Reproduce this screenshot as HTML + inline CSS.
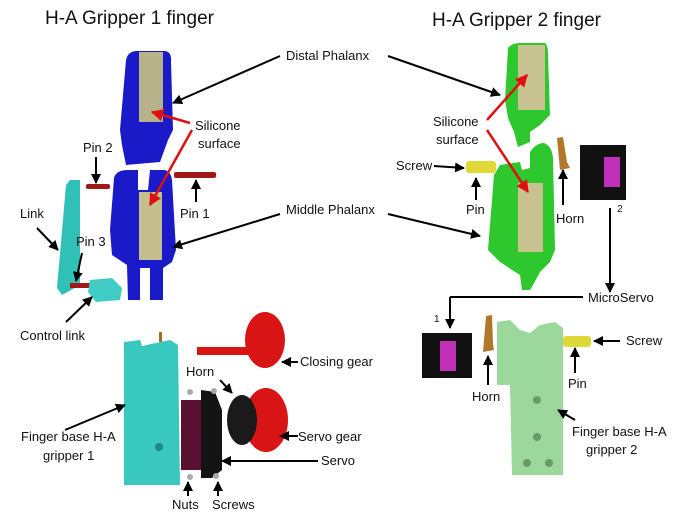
<!DOCTYPE html>
<html><head><meta charset="utf-8"><style>
html,body{margin:0;padding:0;background:#fff;}
svg{display:block;}
text{font-family:"Liberation Sans",sans-serif;fill:#111;}
.l{font-size:13px;}
.t{font-size:19px;}
</style></head><body>
<svg width="696" height="514" viewBox="0 0 696 514" xmlns="http://www.w3.org/2000/svg">
<defs>
<marker id="ah" viewBox="0 0 10 10" refX="9" refY="5" markerWidth="5" markerHeight="5" orient="auto-start-reverse"><path d="M0,0L10,5L0,10z" fill="#000"/></marker>
<marker id="ahr" viewBox="0 0 10 10" refX="9" refY="5" markerWidth="5" markerHeight="5" orient="auto"><path d="M0,0L10,5L0,10z" fill="#e01010"/></marker>
</defs>
<text class="t" x="45" y="24">H-A Gripper 1 finger</text>
<text class="t" x="432" y="26">H-A Gripper 2 finger</text>

<g>
<path d="M126,60 Q128,50 140,51 L165,51 Q172,52 171,62 L173,130 L168,140 L160,162 L126,165 L122,145 L120,130 Z" fill="#1a1ac8"/>
<rect x="139" y="52" width="24" height="70" fill="#b8b288"/>
</g>
<g>
<path d="M114,178 Q116,170 128,170 L138,170 L138,190 L148,190 L150,170 L165,170 Q171,172 172,180 L176,250 L172,262 L163,268 L163,300 L150,300 L150,268 L140,268 L140,300 L128,300 L127,265 L112,255 L110,230 Z" fill="#1a1ac8"/>
<rect x="139" y="192" width="23" height="68" fill="#c4be8c"/>
</g>
<rect x="86" y="184" width="24" height="5" rx="2" fill="#a01818"/>
<rect x="174" y="172" width="42" height="6" rx="2" fill="#a01818"/>
<path d="M70,180 L80,180 L80,285 L62,295 L57,288 L66,185 Z" fill="#30c0b8"/>
<rect x="70" y="283" width="20" height="5" fill="#a01818"/>
<path d="M90,280 L112,278 L122,288 L120,300 L96,302 L88,292 Z" fill="#40ccc4"/>

<path d="M124,342 L140,340 L142,346 L170,340 L178,345 L180,485 L124,485 Z" fill="#38c8c0"/>
<rect x="159" y="332" width="3" height="10" fill="#a07020"/>
<circle cx="159" cy="447" r="4" fill="#1a8a84"/>
<rect x="181" y="400" width="20" height="70" fill="#5a1030"/>
<path d="M201,390 L215,392 L222,410 L222,470 L212,478 L201,478 Z" fill="#141414"/>
<circle cx="190" cy="392" r="3" fill="#aaa"/><circle cx="214" cy="391" r="3" fill="#aaa"/>
<circle cx="190" cy="477" r="3" fill="#aaa"/><circle cx="216" cy="476" r="3" fill="#aaa"/>
<ellipse cx="266" cy="420" rx="22" ry="32" fill="#d81414"/>
<ellipse cx="265" cy="340" rx="20" ry="28" fill="#d81414"/>
<rect x="197" y="347" width="55" height="8" fill="#d81414"/>
<ellipse cx="242" cy="420" rx="15" ry="25" fill="#1a1a1a"/>

<g>
<path d="M508,48 Q512,43 520,43 L545,43 Q548,45 548,55 L550,115 L540,125 L530,132 L530,142 L518,147 L514,132 L508,118 L505,100 Z" fill="#2ec82e"/>
<rect x="518" y="45" width="27" height="65" fill="#c8c290"/>
</g>
<g>
<path d="M494,175 L500,165 L520,162 L522,170 L530,168 L530,152 Q536,143 544,143 Q552,146 553,158 L555,250 L550,262 L540,272 L533,285 L530,290 L522,290 L520,275 L500,262 L488,250 Z" fill="#2ec82e"/>
<rect x="518" y="183" width="25" height="69" fill="#c8c290"/>
</g>
<rect x="466" y="161" width="30" height="12" rx="3" fill="#e0d838"/>
<path d="M557,138 L563,137 L567,162 L570,168 L560,170 Z" fill="#b07828"/>
<rect x="580" y="145" width="46" height="55" fill="#111"/>
<rect x="604" y="157" width="16" height="30" fill="#c030b8"/>
<path d="M497,322 L510,320 L520,330 L530,333 L540,325 L555,322 L563,328 L563,475 L512,475 L510,385 L497,385 Z" fill="#9cd89c"/>
<circle cx="537" cy="400" r="4" fill="#6a9a6a"/>
<circle cx="537" cy="437" r="4" fill="#6a9a6a"/>
<circle cx="527" cy="463" r="4" fill="#6a9a6a"/><circle cx="549" cy="463" r="4" fill="#6a9a6a"/>
<rect x="422" y="333" width="50" height="45" fill="#111"/>
<rect x="440" y="341" width="16" height="30" fill="#c030b8"/>
<path d="M486,316 L492,315 L493,345 L494,350 L483,352 Z" fill="#b07828"/>
<rect x="563" y="336" width="28" height="11" rx="3" fill="#e0d838"/>

<g stroke="#000" stroke-width="2" fill="none" marker-end="url(#ah)">
<line x1="280" y1="56" x2="173" y2="103"/>
<line x1="388" y1="56" x2="500" y2="95"/>
<line x1="280" y1="214" x2="173" y2="247"/>
<line x1="388" y1="214" x2="480" y2="236"/>
<line x1="96" y1="157" x2="96" y2="183"/>
<line x1="196" y1="202" x2="196" y2="180"/>
<line x1="37" y1="228" x2="58" y2="250"/>
<line x1="82" y1="253" x2="76" y2="281"/>
<line x1="66" y1="322" x2="92" y2="297"/>
<line x1="434" y1="166" x2="464" y2="168"/>
<line x1="476" y1="200" x2="476" y2="178"/>
<line x1="563" y1="205" x2="563" y2="170"/>
<line x1="610" y1="208" x2="610" y2="292"/>
<line x1="583" y1="297" x2="450" y2="297" marker-end="none"/>
<line x1="450" y1="297" x2="450" y2="328"/>
<line x1="620" y1="341" x2="594" y2="341"/>
<line x1="575" y1="373" x2="575" y2="348"/>
<line x1="488" y1="385" x2="488" y2="356"/>
<line x1="575" y1="420" x2="558" y2="410"/>
<line x1="65" y1="430" x2="125" y2="405"/>
<line x1="220" y1="380" x2="232" y2="393"/>
<line x1="298" y1="362" x2="282" y2="362"/>
<line x1="298" y1="436" x2="280" y2="436"/>
<line x1="318" y1="461" x2="222" y2="461"/>
<line x1="188" y1="496" x2="188" y2="482"/>
<line x1="218" y1="496" x2="218" y2="482"/>
</g>
<g stroke="#e01010" stroke-width="2.5" fill="none" marker-end="url(#ahr)">
<line x1="190" y1="123" x2="152" y2="112"/>
<line x1="192" y1="130" x2="150" y2="205"/>
<line x1="487" y1="120" x2="527" y2="75"/>
<line x1="487" y1="130" x2="528" y2="192"/>
</g>

<g class="l">
<text x="286" y="60" class="l">Distal Phalanx</text>
<text x="286" y="214" class="l">Middle Phalanx</text>
<text x="195" y="130" class="l">Silicone</text>
<text x="198" y="148" class="l">surface</text>
<text x="433" y="126" class="l">Silicone</text>
<text x="436" y="144" class="l">surface</text>
<text x="83" y="152" class="l">Pin 2</text>
<text x="180" y="218" class="l">Pin 1</text>
<text x="20" y="218" class="l">Link</text>
<text x="76" y="246" class="l">Pin 3</text>
<text x="20" y="340" class="l">Control  link</text>
<text x="396" y="170" class="l">Screw</text>
<text x="466" y="214" class="l">Pin</text>
<text x="556" y="223" class="l">Horn</text>
<text x="617" y="212" style="font-size:10px">2</text>
<text x="588" y="302" class="l">MicroServo</text>
<text x="434" y="322" style="font-size:10px">1</text>
<text x="626" y="345" class="l">Screw</text>
<text x="568" y="388" class="l">Pin</text>
<text x="472" y="401" class="l">Horn</text>
<text x="572" y="436" class="l">Finger base H-A</text>
<text x="586" y="454" class="l">gripper 2</text>
<text x="186" y="376" class="l">Horn</text>
<text x="300" y="366" class="l">Closing gear</text>
<text x="298" y="441" class="l">Servo gear</text>
<text x="321" y="465" class="l">Servo</text>
<text x="21" y="441" class="l">Finger base H-A</text>
<text x="43" y="460" class="l">gripper 1</text>
<text x="172" y="509" class="l">Nuts</text>
<text x="212" y="509" class="l">Screws</text>
</g>
</svg>
</body></html>
